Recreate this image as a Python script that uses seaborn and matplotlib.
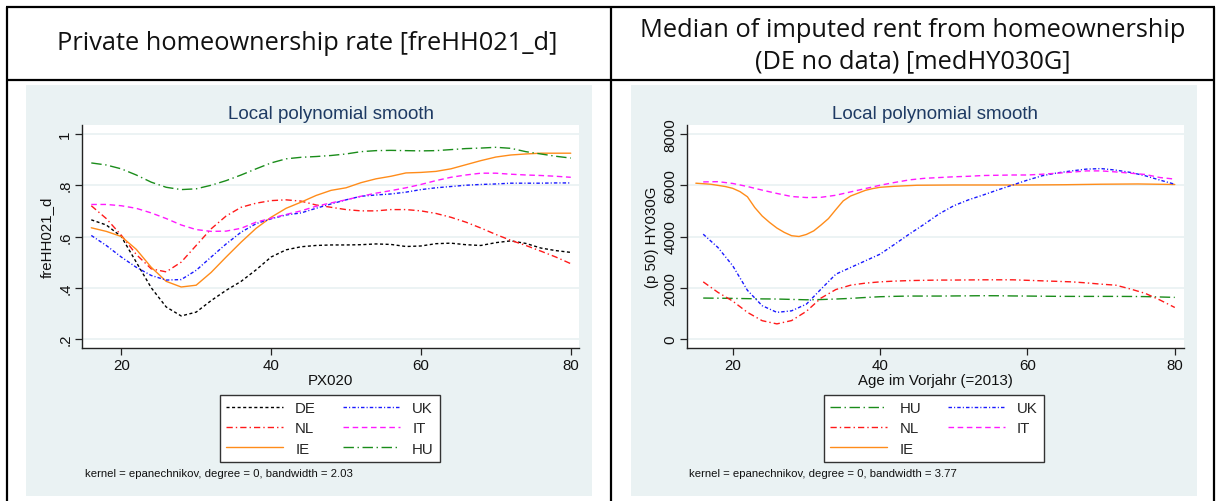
import matplotlib
matplotlib.use("Agg")
import matplotlib.pyplot as plt
import seaborn as sns
import pandas as pd
from matplotlib.patches import Rectangle
from matplotlib.lines import Line2D

# ---------------- data ----------------
ages_l = list(range(16, 81, 2))
de_l = [0.665, 0.645, 0.60, 0.50, 0.40, 0.325, 0.29, 0.305, 0.35, 0.39, 0.425, 0.47, 0.52,
        0.548, 0.56, 0.565, 0.567, 0.567, 0.568, 0.571, 0.569, 0.561, 0.563, 0.572, 0.574,
        0.568, 0.565, 0.576, 0.583, 0.573, 0.555, 0.545, 0.538]
nl_l = [0.72, 0.67, 0.605, 0.53, 0.474, 0.462, 0.50, 0.565, 0.63, 0.68, 0.714, 0.73, 0.74,
        0.743, 0.738, 0.723, 0.714, 0.705, 0.70, 0.70, 0.705, 0.705, 0.70, 0.69, 0.675,
        0.656, 0.633, 0.608, 0.585, 0.565, 0.543, 0.52, 0.494]
ie_l = [0.634, 0.62, 0.60, 0.55, 0.48, 0.425, 0.403, 0.41, 0.46, 0.52, 0.578, 0.632, 0.675,
        0.71, 0.734, 0.76, 0.78, 0.79, 0.81, 0.825, 0.835, 0.848, 0.85, 0.854, 0.864,
        0.88, 0.896, 0.91, 0.918, 0.922, 0.925, 0.925, 0.925]
uk_l = [0.604, 0.565, 0.52, 0.48, 0.448, 0.43, 0.432, 0.468, 0.52, 0.571, 0.617, 0.65, 0.669,
        0.684, 0.692, 0.71, 0.727, 0.743, 0.757, 0.762, 0.766, 0.773, 0.783, 0.79, 0.795,
        0.80, 0.803, 0.805, 0.808, 0.808, 0.808, 0.809, 0.809]
it_l = [0.725, 0.725, 0.72, 0.71, 0.692, 0.67, 0.645, 0.627, 0.62, 0.621, 0.632, 0.656, 0.671,
        0.686, 0.70, 0.718, 0.731, 0.743, 0.757, 0.769, 0.779, 0.79, 0.803, 0.818, 0.831,
        0.84, 0.847, 0.847, 0.843, 0.84, 0.838, 0.835, 0.831]
hu_l = [0.887, 0.879, 0.864, 0.84, 0.812, 0.792, 0.783, 0.786, 0.80, 0.818, 0.84, 0.864, 0.887,
        0.903, 0.909, 0.912, 0.916, 0.922, 0.931, 0.935, 0.936, 0.935, 0.934, 0.935, 0.939,
        0.943, 0.945, 0.948, 0.944, 0.931, 0.922, 0.913, 0.906]

ages_r = list(range(16, 81, 2))
hu_r = [1598, 1592, 1585, 1575, 1565, 1560, 1545, 1530, 1540, 1560, 1585, 1620, 1650,
        1665, 1676, 1676, 1676, 1680, 1685, 1690, 1688, 1680, 1676, 1670, 1665,
        1663, 1663, 1663, 1663, 1660, 1655, 1640, 1624]
uk_r = [4090, 3570, 2860, 1900, 1300, 1040, 1100, 1360, 1950, 2530, 2790, 3050, 3310,
        3700, 4100, 4480, 4880, 5200, 5430, 5620, 5820, 6010, 6200, 6370, 6480,
        6560, 6630, 6650, 6590, 6500, 6370, 6200, 6040]
nl_r = [2230, 1820, 1480, 1040, 715, 590, 720, 1080, 1600, 1930, 2100, 2180, 2230,
        2260, 2280, 2290, 2300, 2300, 2305, 2310, 2310, 2310, 2290, 2270, 2250,
        2230, 2190, 2140, 2100, 1950, 1780, 1520, 1230]
it_r = [6130, 6140, 6070, 5950, 5810, 5680, 5560, 5520, 5530, 5610, 5740, 5870, 6000,
        6110, 6210, 6270, 6300, 6330, 6350, 6380, 6390, 6400, 6400, 6430, 6470,
        6510, 6560, 6560, 6520, 6470, 6420, 6300, 6240]
ages_ie_r = [15, 17, 19, 20, 21, 22, 23, 24, 25, 26, 27, 28, 29, 30, 31, 32, 33, 34, 35, 36,
             37, 38, 39, 40, 42, 45, 50, 55, 60, 65, 70, 75, 80]
ie_r = [6080, 6040, 5950, 5880, 5750, 5550, 5130, 4800, 4550, 4330, 4160, 4030, 4000, 4080,
        4220, 4450, 4700, 5050, 5390, 5580, 5690, 5800, 5870, 5920, 5960, 6000, 6010,
        6010, 6010, 6020, 6040, 6050, 6030]

countries_l = ["DE", "NL", "IE", "UK", "IT", "HU"]
countries_r = ["HU", "NL", "IE", "UK", "IT"]

header_l = "Private homeownership rate [freHH021_d]"
header_r = "Median of imputed rent from homeownership\n(DE no data) [medHY030G]"
title = "Local polynomial smooth"
note_l = "kernel = epanechnikov, degree = 0, bandwidth = 2.03"
note_r = "kernel = epanechnikov, degree = 0, bandwidth = 3.77"

yticks_l = [0.2, 0.4, 0.6, 0.8, 1.0]
yticklabels_l = [".2", ".4", ".6", ".8", "1"]
yticks_r = [0, 2000, 4000, 6000, 8000]
yticklabels_r = ["0", "2000", "4000", "6000", "8000"]
xticks = [20, 40, 60, 80]

# ---------------- styles ----------------
colors = {"DE": "#000000", "NL": "#ff1a1a", "IE": "#ff8c1a", "UK": "#1a1aff",
          "IT": "#ff1aff", "HU": "#1a8c1a"}
dashes = {"DE": (2.2, 1.8), "NL": (4.5, 2.2, 1.0, 2.2), "IE": "",
          "UK": (2.5, 1.5, 0.8, 1.5), "IT": (4.0, 2.6), "HU": (7.5, 2.6, 1.0, 2.6)}

sns.set_theme(style="white")
plt.rcParams["font.family"] = ["Liberation Sans", "DejaVu Sans"]

W, H = 1216, 502
fig = plt.figure(figsize=(W / 100, H / 100), dpi=100)
fig.patch.set_facecolor("white")


def fx(px):
    return px / W


def fy(py):
    return 1 - py / H


BG = "#eaf2f3"
for x0, x1 in [(26, 592), (631, 1197)]:
    fig.add_artist(Rectangle((fx(x0), fy(497)), (x1 - x0) / W, (497 - 86) / H,
                             transform=fig.transFigure, facecolor=BG, edgecolor="none",
                             zorder=-10))

# table lines
lw_tab = 1.6
for (xa, ya, xb, yb) in [(6, 8, 1215, 8), (6, 81, 1215, 81), (7, 8, 7, 502),
                         (611, 8, 611, 502), (1214, 8, 1214, 502)]:
    fig.add_artist(Line2D([fx(xa), fx(xb)], [fy(ya), fy(yb)], transform=fig.transFigure,
                          color="black", lw=lw_tab, solid_capstyle="butt", zorder=5))

hfont = ["Open Sans", "DejaVu Sans"]
fig.text(fx(307), fy(44), header_l, ha="center", va="center", fontsize=18.3,
         family=hfont, color="#111111")
fig.text(fx(913), fy(46.5), header_r, ha="center", va="center", fontsize=18.3,
         family=hfont, color="#111111", linespacing=1.32)


def make_panel(left_px, right_px, data_df, order, xlim, ylim, yticks, yticklabels,
               xlabel, ylabel, note, leg_cx, note_x):
    ax = fig.add_axes([fx(left_px), fy(349), (right_px - left_px) / W, (349 - 126) / H])
    ax.set_facecolor("white")
    sns.lineplot(data=data_df, x="age", y="value", hue="country", style="country",
                 palette=colors, dashes=dashes, hue_order=order, style_order=order,
                 estimator=None, sort=True, lw=1.0, ax=ax, legend=True)
    ax.set_xlim(*xlim)
    ax.set_ylim(*ylim)
    ax.set_xticks(xticks)
    ax.set_xticklabels([str(t) for t in xticks], fontsize=10.8)
    ax.set_yticks(yticks)
    ax.set_yticklabels(yticklabels, fontsize=10.8, rotation=90, va="center")
    ax.grid(axis="y", color=BG, lw=1.3)
    ax.grid(axis="x", visible=False)
    ax.set_axisbelow(True)
    for s in ["top", "right"]:
        ax.spines[s].set_visible(False)
    for s in ["left", "bottom"]:
        ax.spines[s].set_color("#222222")
        ax.spines[s].set_linewidth(1.0)
    ax.tick_params(axis="both", which="major", direction="out", length=5, width=0.9,
                   color="#222222", pad=2, labelcolor="#111111",
                   bottom=True, left=True)
    ax.set_xlabel(xlabel, fontsize=10.8, labelpad=1, color="#111111")
    ax.set_ylabel(ylabel, fontsize=10.8, labelpad=3, color="#111111")
    ax.set_title(title, fontsize=13.5, color="#1e3a63", pad=5)
    handles, labels = ax.get_legend_handles_labels()
    lg = ax.get_legend()
    if lg is not None:
        lg.remove()
    fig.legend(handles, labels, loc="upper center",
               bbox_to_anchor=(fx(leg_cx), fy(396)), ncol=2, fontsize=10.8,
               frameon=True, fancybox=False, edgecolor="#333333", facecolor="white",
               framealpha=1, handlelength=3.8, handletextpad=0.8, columnspacing=1.8,
               labelspacing=0.42, borderpad=0.4, borderaxespad=0)
    fig.text(fx(note_x), fy(474), note, ha="left", va="center", fontsize=8.2,
             color="#111111")
    return ax


rows_l = []
for c, vals in zip(["DE", "NL", "IE", "UK", "IT", "HU"], [de_l, nl_l, ie_l, uk_l, it_l, hu_l]):
    for a, v in zip(ages_l, vals):
        rows_l.append({"country": c, "age": a, "value": v})
df_l = pd.DataFrame(rows_l)

rows_r = []
for c, xs, vals in [("HU", ages_r, hu_r), ("NL", ages_r, nl_r), ("IE", ages_ie_r, ie_r),
                    ("UK", ages_r, uk_r), ("IT", ages_r, it_r)]:
    for a, v in zip(xs, vals):
        rows_r.append({"country": c, "age": a, "value": v})
df_r = pd.DataFrame(rows_r)

make_panel(82, 579, df_l, countries_l, (14.76, 81.1), (0.165, 1.035), yticks_l,
           yticklabels_l, "PX020", "freHH021_d", note_l, 330, 85)
make_panel(687, 1184, df_r, countries_r, (13.8, 81.25), (-351, 8351), yticks_r,
           yticklabels_r, "Age im Vorjahr (=2013)", "(p 50) HY030G", note_r, 934, 689)

fig.savefig("out.png", dpi=100)
